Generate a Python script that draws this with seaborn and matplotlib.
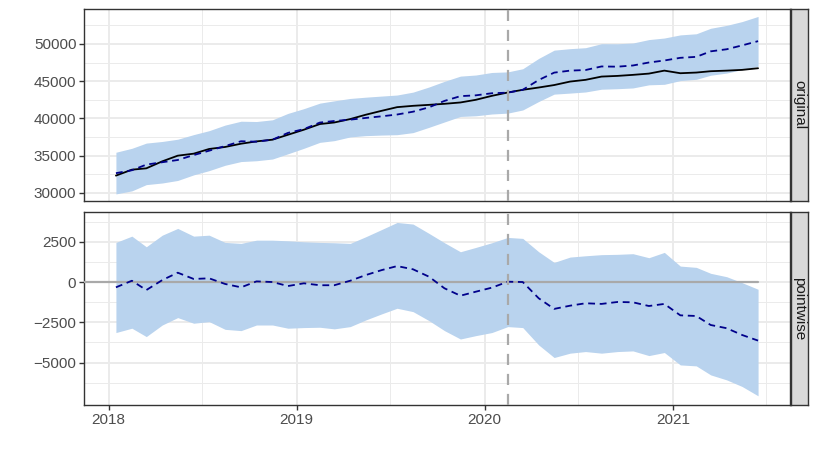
import numpy as np
import pandas as pd
import seaborn as sns
import matplotlib.pyplot as plt
import matplotlib.dates as mdates

# monthly series, Jan 2018 - Jun 2021
dates = pd.date_range("2018-01-01", periods=42, freq="MS") + pd.Timedelta(days=14)
intervention = pd.Timestamp("2020-02-15")

observed = [32310, 33110, 33290, 34230, 34990, 35260, 35890, 36160, 36600, 36910,
            37140, 37800, 38480, 39240, 39450, 39910, 40490, 41020, 41510, 41690,
            41820, 41960, 42140, 42500, 43030, 43480, 43840, 44150, 44480, 44950,
            45180, 45620, 45710, 45850, 46020, 46420, 46070, 46160, 46340, 46420,
            46520, 46740]
predicted = [32640, 33030, 33790, 34110, 34410, 35070, 35660, 36280, 36930, 36870,
             37140, 38050, 38560, 39440, 39650, 39830, 40060, 40280, 40520, 40900,
             41490, 42350, 42990, 43100, 43380, 43460, 43840, 45160, 46150, 46420,
             46500, 46980, 46950, 47110, 47510, 47780, 48140, 48270, 49010, 49290,
             49810, 50380]
pred_lower = [29850, 30260, 31100, 31320, 31660, 32410, 32980, 33700, 34200, 34310,
              34540, 35240, 35980, 36780, 37010, 37510, 37680, 37760, 37810, 38090,
              38800, 39520, 40260, 40350, 40590, 40710, 41130, 42270, 43260, 43400,
              43550, 43920, 43990, 44090, 44510, 44580, 45080, 45250, 45800, 46090,
              46560, 47000]
pred_upper = [35450, 35980, 36680, 36900, 37200, 37820, 38350, 39100, 39620, 39580,
              39810, 40670, 41310, 42050, 42360, 42680, 42850, 43000, 43140, 43530,
              44220, 44980, 45680, 45830, 46170, 46250, 46670, 48060, 49170, 49370,
              49500, 50040, 50030, 50130, 50590, 50800, 51220, 51370, 52110, 52500,
              53010, 53700]
effect = [-330, 80, -500, 120, 580, 190, 230, -120, -330, 40,
          0, -250, -80, -200, -200, 80, 430, 740, 990, 790,
          330, -390, -850, -600, -350, 20, 0, -1010, -1670, -1470,
          -1320, -1360, -1240, -1260, -1490, -1360, -2070, -2110, -2670, -2870,
          -3290, -3640]
effect_lower = [-3140, -2870, -3390, -2670, -2210, -2560, -2460, -2940, -3020, -2670,
                -2670, -2870, -2830, -2810, -2910, -2770, -2360, -1980, -1630, -1840,
                -2400, -3020, -3540, -3330, -3140, -2770, -2830, -3910, -4690, -4420,
                -4320, -4420, -4320, -4280, -4570, -4380, -5150, -5210, -5770, -6080,
                -6490, -7070]
effect_upper = [2460, 2850, 2190, 2910, 3330, 2850, 2910, 2460, 2400, 2600,
                2600, 2560, 2500, 2460, 2440, 2400, 2810, 3260, 3700, 3600,
                3020, 2440, 1880, 2150, 2440, 2770, 2710, 1880, 1220, 1550,
                1630, 1700, 1720, 1760, 1510, 1840, 990, 910, 540, 330,
                -40, -450]

df = pd.DataFrame({"date": dates, "observed": observed, "predicted": predicted,
                   "effect": effect})

sns.set_style("white")
plt.rcParams["font.family"] = ["Liberation Sans", "DejaVu Sans"]
plt.rcParams["axes.unicode_minus"] = True

band = "#B9D3EE"
dark = "#00008B"
grey = "#A9A9A9"

fig = plt.figure(figsize=(8.3, 4.61), dpi=100)
ax1 = fig.add_axes([84 / 830, 1 - 201 / 461, 706 / 830, 192 / 461])
ax2 = fig.add_axes([84 / 830, 1 - 405 / 461, 706 / 830, 193 / 461], sharex=ax1)

# top panel: original
ax1.fill_between(dates, pred_lower, pred_upper, color=band, lw=0, zorder=2)
sns.lineplot(data=df, x="date", y="observed", color="black", lw=1.3, ax=ax1, zorder=3)
sns.lineplot(data=df, x="date", y="predicted", color=dark, lw=1.3, ax=ax1, zorder=4)
ax1.lines[-1].set_dashes([3.8, 2.6])
ax1.axvline(intervention, color=grey, lw=1.6, dashes=(5, 4), zorder=5)
ax1.set_ylim(28900, 54700)
ax1.set_yticks([30000, 35000, 40000, 45000, 50000])
ax1.set_yticks([32500, 37500, 42500, 47500, 52500], minor=True)

# bottom panel: pointwise
ax2.fill_between(dates, effect_lower, effect_upper, color=band, lw=0, zorder=2)
ax2.axhline(0, xmax=0.955, color=grey, lw=1.6, zorder=3)
sns.lineplot(data=df, x="date", y="effect", color=dark, lw=1.3, ax=ax2, zorder=4)
ax2.lines[-1].set_dashes([3.8, 2.6])
ax2.axvline(intervention, color=grey, lw=1.6, dashes=(5, 4), zorder=5)
ax2.set_ylim(-7640, 4350)
ax2.set_yticks([-5000, -2500, 0, 2500])
ax2.set_yticks([-6250, -3750, -1250, 1250, 3750], minor=True)

ax1.set_xlim(dates[0] - pd.Timedelta(days=62), dates[-1] + pd.Timedelta(days=62))
ax2.xaxis.set_major_locator(mdates.YearLocator())
ax2.xaxis.set_minor_locator(mdates.MonthLocator(bymonth=7))
ax2.xaxis.set_major_formatter(mdates.DateFormatter("%Y"))

for ax in (ax1, ax2):
    ax.set_xlabel("")
    ax.set_ylabel("")
    ax.grid(which="major", color="#EBEBEB", lw=1.4, zorder=0)
    ax.grid(which="minor", color="#EBEBEB", lw=0.7, zorder=0)
    ax.set_axisbelow(True)
    for s in ax.spines.values():
        s.set_color("#333333")
        s.set_linewidth(1.0)
    ax.tick_params(axis="both", which="major", length=3.5, width=1.0, color="#333333",
                   labelsize=11, labelcolor="#4D4D4D", pad=2, left=True, bottom=True)
    ax.tick_params(which="minor", length=0)
ax1.tick_params(axis="x", labelbottom=False, bottom=False)

# facet strips
for y0, h, label in [(1 - 201 / 461, 192 / 461, "original"),
                     (1 - 405 / 461, 193 / 461, "pointwise")]:
    sax = fig.add_axes([791 / 830, y0, 17 / 830, h])
    sax.set_facecolor("#D9D9D9")
    sax.set_xticks([])
    sax.set_yticks([])
    for s in sax.spines.values():
        s.set_color("#333333")
        s.set_linewidth(1.0)
    sax.text(0.5, 0.5, label, rotation=270, ha="center", va="center",
             fontsize=11, color="#1A1A1A", transform=sax.transAxes)

fig.savefig("out.png", dpi=100)
